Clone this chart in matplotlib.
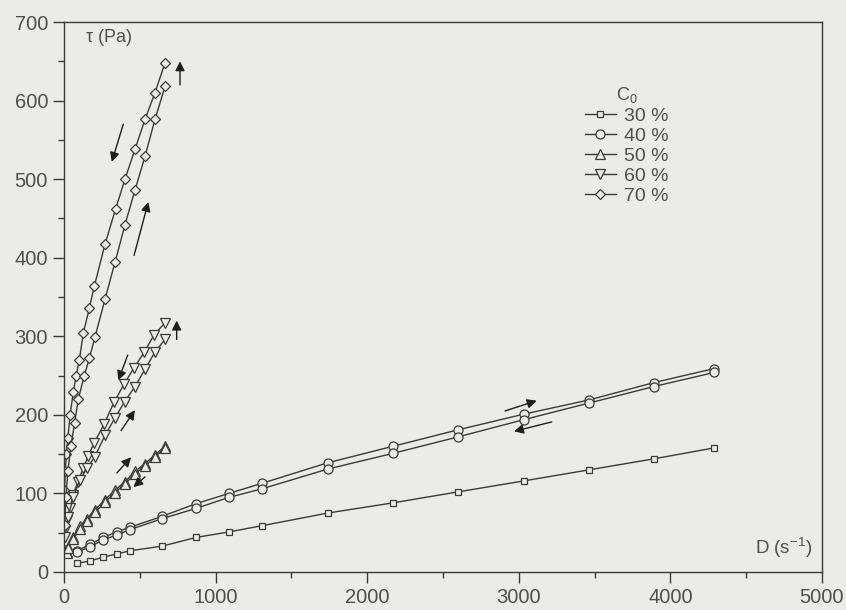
import matplotlib
matplotlib.use("Agg")
import matplotlib.pyplot as plt
from matplotlib.lines import Line2D

plt.rcParams['font.family'] = ['Liberation Sans', 'DejaVu Sans']
plt.rcParams['mathtext.fontset'] = 'custom'
plt.rcParams['mathtext.rm'] = 'Liberation Sans'
plt.rcParams['mathtext.it'] = 'Liberation Sans'

# 30 % (squares)
d30 = [84, 171, 259, 348, 435, 649, 871, 1088, 1308, 1739, 2170, 2600, 3035, 3463, 3890, 4290]
t30 = [11, 14, 19, 23, 27, 33, 44, 51, 59, 75, 88, 102, 116, 130, 144, 158]

# 40 % (circles), two branches
d40 = [7, 84, 171, 259, 348, 435, 649, 871, 1088, 1308, 1739, 2170, 2600, 3035, 3463, 3890, 4290]
t40_up = [28, 27, 35, 44, 51, 57, 71, 87, 100, 113, 139, 160, 181, 201, 219, 241, 259]
t40_dn = [25, 25, 32, 41, 47, 54, 68, 81, 95, 106, 131, 151, 172, 194, 215, 236, 254]

# 50 % (up triangles)
d50 = [17, 28, 61, 105, 150, 204, 270, 336, 402, 468, 534, 600, 666]
t50_up = [26, 32, 45, 58, 68, 79, 92, 104, 115, 128, 138, 149, 160]
t50_dn = [24, 30, 42, 55, 65, 76, 89, 101, 112, 125, 135, 146, 158]

# 60 % (down triangles)
d60_a = [7, 20, 40, 61, 90, 127, 160, 198, 266, 332, 396, 462, 530, 594, 666]
t60_a = [53, 66, 82, 98, 115, 132, 148, 164, 189, 217, 239, 260, 280, 302, 317]
d60_b = [7, 28, 61, 105, 150, 204, 270, 336, 400, 468, 534, 600, 666]
t60_b = [45, 70, 96, 117, 132, 147, 174, 196, 217, 236, 258, 280, 296]

# 70 % (diamonds)
d70_a = [3, 8, 15, 25, 40, 61, 80, 101, 127, 167, 200, 270, 340, 402, 468, 534, 600, 666]
t70_a = [105, 128, 150, 170, 200, 229, 250, 270, 304, 336, 364, 417, 462, 500, 538, 576, 610, 648]
d70_b = [5, 12, 25, 45, 70, 94, 132, 167, 204, 270, 336, 402, 468, 534, 600, 666]
t70_b = [60, 95, 128, 160, 190, 220, 249, 272, 299, 347, 394, 442, 486, 529, 576, 618]

labels = ['30 %', '40 %', '50 %', '60 %', '70 %']
markers = ['s', 'o', '^', 'v', 'D']
msizes = [4.5, 6.5, 6.5, 6.5, 5.5]

# arrows (tail, head) in data coords
arrows = [
    ((765, 620), (765, 650)),
    ((391, 570), (315, 522)),
    ((462, 403), (556, 471)),
    ((743, 296), (743, 320)),
    ((420, 276), (358, 244)),
    ((376, 180), (468, 206)),
    ((348, 126), (442, 146)),
    ((534, 121), (457, 108)),
    ((2909, 205), (3118, 218)),
    ((3217, 191), (2968, 179)),
]

bg = '#ebebe9'
lc = '#3a3a3a'
tc = '#505050'

fig = plt.figure(figsize=(8.46, 6.10), dpi=100, facecolor=bg)
ax = fig.add_axes([0.0757, 0.0623, 0.8959, 0.9016])
ax.set_facecolor(bg)

def curve(x, y, m, ms):
    ax.plot(x, y, color=lc, lw=1.0, marker=m, ms=ms, mfc=bg, mec=lc, mew=0.9)

curve(d30, t30, 's', msizes[0])
curve(d40, t40_up, 'o', msizes[1])
curve(d40, t40_dn, 'o', msizes[1])
curve(d50, t50_up, '^', msizes[2])
curve(d50, t50_dn, '^', msizes[2])
curve(d60_a, t60_a, 'v', msizes[3])
curve(d60_b, t60_b, 'v', msizes[3])
curve(d70_a, t70_a, 'D', msizes[4])
curve(d70_b, t70_b, 'D', msizes[4])

for tail, head in arrows:
    ax.annotate('', xy=head, xytext=tail,
                arrowprops=dict(arrowstyle='-|>', color='#1e1e1e', lw=1.0,
                                mutation_scale=14, shrinkA=0, shrinkB=0))

ax.set_xlim(0, 5000)
ax.set_ylim(0, 700)
ax.set_xticks(range(0, 5001, 1000))
ax.set_xticks(range(500, 5000, 1000), minor=True)
ax.set_yticks(range(0, 701, 100))
ax.set_yticks(range(50, 700, 100), minor=True)
ax.tick_params(which='major', direction='out', length=8, width=1, color=lc,
               labelsize=14.5, labelcolor=tc)
ax.tick_params(which='minor', direction='out', length=4, width=1, color=lc)
for s in ax.spines.values():
    s.set_color(lc)
    s.set_linewidth(1.0)

ax.text(135, 680, r'$\tau$ (Pa)', fontsize=13, color=tc, va='center')
ax.text(4555, 30, r'D (s$^{-1}$)', fontsize=13.5, color=tc, va='center')

handles = [Line2D([], [], color=lc, lw=1.0, marker=m, ms=ms, mfc=bg, mec=lc, mew=0.9)
           for m, ms in zip(markers, msizes)]
leg = ax.legend(handles, labels, title=r'C$_0$', loc='upper left',
                bbox_to_anchor=(0.674, 0.903), frameon=False, fontsize=14,
                title_fontsize=13, handlelength=1.6, handletextpad=0.45,
                labelspacing=0.12, borderpad=0)
for t in leg.get_texts():
    t.set_color(tc)
leg.get_title().set_color(tc)

fig.savefig('out.png', dpi=100, facecolor=bg)
